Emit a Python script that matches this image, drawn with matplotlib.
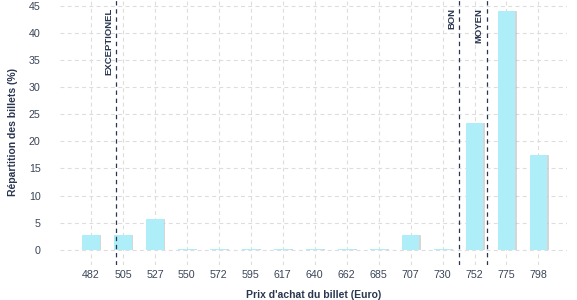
import numpy as np
import matplotlib.pyplot as plt
import matplotlib.patheffects as pe

prix = ['482', '505', '527', '550', '572', '595', '617', '640',
        '662', '685', '707', '730', '752', '775', '798']
repartition = [2.8, 2.8, 5.7, 0.15, 0.15, 0.15, 0.15, 0.15,
               0.15, 0.15, 2.8, 0.15, 23.4, 44.0, 17.5]

# seuils (position entre les catégories)
seuils = {'EXCEPTIONEL': 0.79, 'BON': 11.52, 'MOYEN': 12.38}

plt.rcParams['font.family'] = ['Liberation Sans', 'DejaVu Sans']

fig = plt.figure(figsize=(5.77, 3.0), dpi=100)
ax = fig.add_axes([0.104, 0.117, 0.879, 0.883])

x = np.arange(len(prix))
ax.bar(x, repartition, width=0.54, color='#aeeef8', zorder=3,
       path_effects=[pe.SimplePatchShadow(offset=(1.2, 0), shadow_rgbFace='#bbbbbb', alpha=0.6),
                     pe.Normal()])

for nom, pos in seuils.items():
    ax.axvline(pos, color='#2a3550', lw=0.9, ls=(0, (3.5, 3)), zorder=4)
    ax.text(pos - 0.1, 44.6, nom, rotation=90, ha='right', va='top',
            fontsize=6.8, fontweight='bold', color='#2a3550')

ax.set_xlim(-0.97, 14.9)
ax.set_ylim(-2.8, 46.1)
ax.set_xticks(x)
ax.set_xticklabels(prix)
ax.set_yticks(np.arange(0, 50, 5))
ax.tick_params(length=0, labelsize=7.7, labelcolor='#3a4558')
ax.tick_params(axis='x', pad=4)
ax.tick_params(axis='y', pad=14)
ax.grid(color='#dddddd', ls=(0, (3.5, 3)), lw=0.8, zorder=0)
for s in ax.spines.values():
    s.set_visible(False)

ax.set_xlabel("Prix d'achat du billet (Euro)", fontsize=7.5, fontweight='bold',
              color='#2a3550', labelpad=7)
ax.set_ylabel('Répartition des billets (%)', fontsize=7.5, fontweight='bold',
              color='#2a3550', labelpad=8)

fig.savefig('out.png', dpi=100)
